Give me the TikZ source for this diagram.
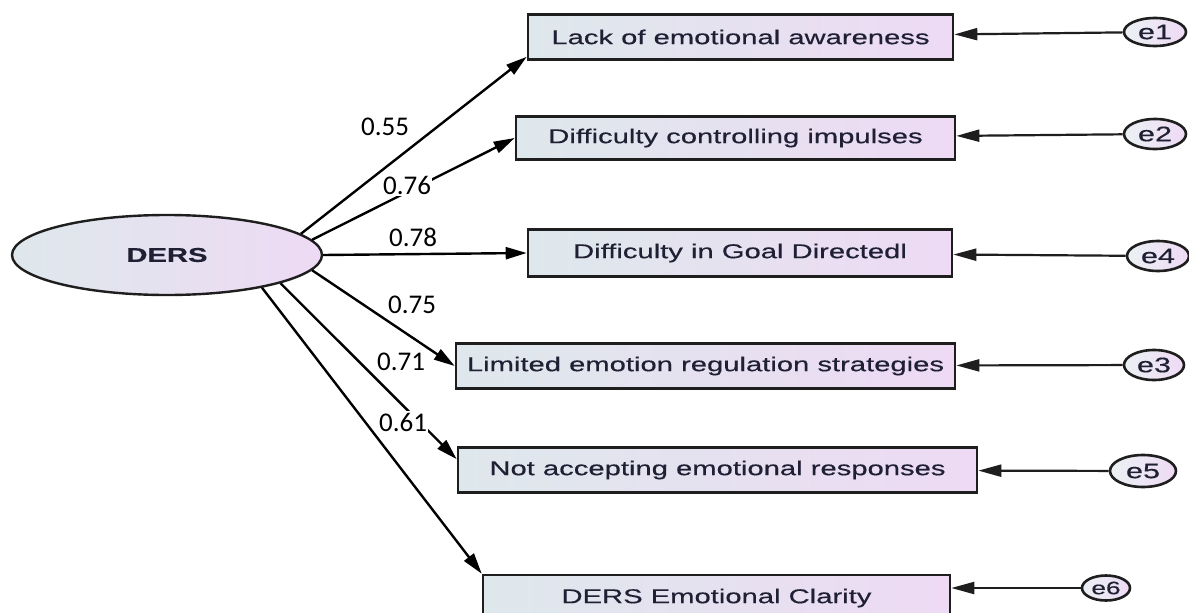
\documentclass[tikz,border=0pt]{standalone}
\usepackage{fontspec}
\usetikzlibrary{shapes.geometric,arrows.meta}
\newfontfamily\boxfont[FakeStretch=1.46,FakeBold=0.4]{Liberation Sans}
\newfontfamily\labfont{Carlito}
\definecolor{txtc}{RGB}{32,32,52}
\definecolor{edgec}{RGB}{30,30,30}
\definecolor{fillL}{RGB}{222,232,236}
\definecolor{fillR}{RGB}{238,218,244}
\tikzset{
  obsbox/.style={draw=edgec, line width=2.6pt, rectangle, minimum height=45pt, inner sep=0pt,
    left color=fillL, right color=fillR, text=txtc,
    font=\boxfont\fontsize{20}{24}\selectfont},
  latent/.style={draw=edgec, line width=2.4pt, ellipse, inner sep=0pt,
    left color=fillL, right color=fillR, text=txtc,
    font=\boxfont\fontsize{20}{24}\selectfont\bfseries},
  errnode/.style={draw=edgec, line width=2.6pt, ellipse, inner sep=0pt,
    left color=fillL!60!white, right color=fillR, text=txtc,
    font=\boxfont\fontsize{21}{24}\selectfont},
  loadpath/.style={draw=black, line width=2.4pt, -{Triangle[length=21pt,width=12pt]}},
  errpath/.style={draw=edgec, line width=2.2pt, -{Triangle[length=23pt,width=12pt]}},
  coef/.style={font=\labfont\fontsize{27}{30}\selectfont, text=black, inner sep=1.5pt, fill=white}
}
\begin{document}
\begin{tikzpicture}[x=1pt,y=-1pt]
\useasboundingbox (0,0) rectangle (1189,613);
\clip (0,0) rectangle (1189,613);
\fill[white] (0,0) rectangle (1189,613);

\node[latent, minimum width=310pt, minimum height=80pt] (ders) at (167,255) {DERS};

\node[obsbox, minimum width=425pt] (b1) at (740.5,37) {Lack of emotional awareness};
\node[obsbox, minimum width=439pt, minimum height=43pt] (b2) at (735.5,138) {Difficulty controlling impulses};
\node[obsbox, minimum width=424pt, minimum height=47pt] (b3) at (740,253) {Difficulty in Goal Directedl};
\node[obsbox, minimum width=499pt] (b4) at (705.5,366) {Limited emotion regulation strategies};
\node[obsbox, minimum width=519pt] (b5) at (717.5,470) {Not accepting emotional responses};
\node[obsbox, minimum width=467pt, minimum height=46pt] (b6) at (716.5,598) {DERS Emotional Clarity};

\draw[loadpath] (ders.9) -- ([yshift=4pt]b1.south west);
\draw[loadpath] (ders.6) -- (b2.west);
\draw[loadpath] (ders.0) -- (b3.west);
\draw[loadpath] (ders.-6.5) -- (b4.west);
\draw[loadpath] (ders.-14.5) -- ([yshift=-13pt]b5.north west);
\draw[loadpath] (ders.-19) -- (b6.north west);

\node[errnode, minimum width=62pt, minimum height=28pt] (e1) at (1155,32) {e1};
\node[errnode, minimum width=62pt, minimum height=30pt] (e2) at (1155,134) {e2};
\node[errnode, minimum width=62pt, minimum height=30pt] (e4) at (1158,256) {e4};
\node[errnode, minimum width=60pt, minimum height=30pt] (e3) at (1154,365) {e3};
\node[errnode, minimum width=66pt, minimum height=32pt] (e5) at (1143,471) {e5};
\node[errnode, minimum width=48pt, minimum height=25pt, font=\boxfont\fontsize{18}{20}\selectfont] (e6) at (1106,588) {e6};

\draw[errpath] (e1) -- (b1);
\draw[errpath] (e2) -- (b2);
\draw[errpath] (e4) -- (b3);
\draw[errpath] (e3) -- (b4);
\draw[errpath] (e5) -- (b5);
\draw[errpath] (e6.west) -- (e6.west -| b6.east);

\node[coef] (c1) at (385,127) {0.55};
\node[coef] (c2) at (407,185) {0.76};
\node[coef] (c3) at (413,237) {0.78};
\node[coef] (c4) at (412,305) {0.75};
\node[coef] (c5) at (401,362) {0.71};
\node[coef] (c6) at (403,422) {0.61};
\end{tikzpicture}
\end{document}
